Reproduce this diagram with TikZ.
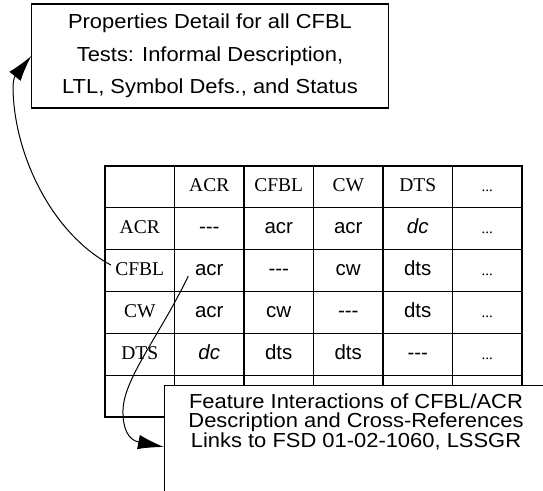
\documentclass[tikz,border=0pt]{standalone}
\usepackage{fontspec}
\setmainfont{Liberation Serif}
\newfontfamily\sansf{Liberation Sans}
\newfontfamily\boxf[FakeStretch=1.08]{Liberation Sans}
\usetikzlibrary{matrix,arrows.meta,calc}

% cell contents of the interaction table
\newcommand\cellsans[1]{{\sansf\fontsize{20.5}{24}\selectfont #1}}
\newcommand\cellital[1]{{\sansf\itshape\fontsize{20.5}{24}\selectfont #1}}
\newcommand\celldash{\cellsans{-\kern0pt-\kern0pt-}}
\newcommand\celldots{{\fontsize{15}{18}\selectfont...}}

\begin{document}
\begin{tikzpicture}[x=1pt,y=-1pt,
  tablecell/.style={draw, line width=1.2pt, minimum width=69.5pt,
    minimum height=41.83pt, inner sep=0pt, text height=12pt, text depth=2pt,
    font=\fontsize{19.5}{22}\selectfont},
  notebox/.style={draw, fill=white, line width=1.2pt},
  link/.style={line width=1pt, -{Latex[length=26pt,width=14.5pt]}}]
\clip (0,0) rectangle (543,490);
\fill[white] (0,0) rectangle (543,490);

% feature interaction table
\matrix (m) [matrix of nodes, nodes in empty cells, inner sep=0pt,
  column sep=-1.2pt, row sep=-1.2pt, nodes={tablecell}] at (313.5,291.5) {
      & ACR & CFBL & CW & DTS & \celldots \\
  ACR & \celldash & \cellsans{acr} & \cellsans{acr} & \cellital{dc} & \celldots \\
  CFBL & \cellsans{acr} & \celldash & \cellsans{cw} & \cellsans{dts} & \celldots \\
  CW & \cellsans{acr} & \cellsans{cw} & \celldash & \cellsans{dts} & \celldots \\
  DTS & \cellital{dc} & \cellsans{dts} & \cellsans{dts} & \celldash & \celldots \\
      & & & & & \\
};

% properties box
\node[notebox, minimum width=356.3pt, minimum height=104pt, align=center,
  inner sep=0pt, font=\boxf\fontsize{20.3}{32.5}\selectfont] (props) at (210,56)
  {Properties Detail for all CFBL\\Tests: Informal Description,\\LTL, Symbol Defs., and Status};

% feature interaction description box
\node[notebox, anchor=north west, minimum width=420pt, minimum height=140pt] (fibox) at (164,385) {};
\node[anchor=north, inner sep=0pt, align=center,
  font={\boxf\fontsize{20.3}{19.5}\selectfont\lineskiplimit=-30pt}] (fitext) at (356,393.5)
  {Feature Interactions of CFBL/ACR\\Description and Cross-References\\Links to FSD 01-02-1060, LSSGR};

% links
\draw[link] ($(m-3-1.center)+(-28.75,-5.5)$) .. controls (55,235) and (20,165) .. (14,105)
  .. controls (13,95) and (12,80) .. (props.west);
\draw[link] ($(m-3-2.center)+(-21,5.5)$) .. controls (160,335) and (124,378) .. (123,410)
  .. controls (122.5,428) and (128,440) .. ($(fibox.north west)+(0,62)$);
\end{tikzpicture}
\end{document}
